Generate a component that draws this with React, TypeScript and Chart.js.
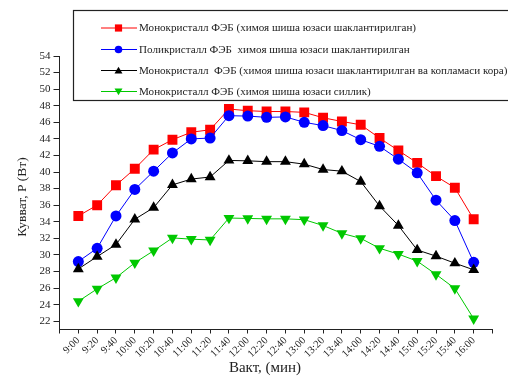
import React, { useEffect, useRef } from "react";
import { Chart, registerables } from "chart.js";

Chart.register(...registerables);

const times = ["9:00","9:20","9:40","10:00","10:20","10:40","11:00","11:20","11:40","12:00","12:20","12:40","13:00","13:20","13:40","14:00","14:20","14:40","15:00","15:20","15:40","16:00"];

const monoShaped = [34.7, 36.0, 38.4, 40.4, 42.7, 43.9, 44.8, 45.1, 47.6, 47.4, 47.3, 47.3, 47.2, 46.55, 46.1, 45.7, 44.1, 42.6, 41.1, 39.5, 38.1, 34.3];
const polyShaped = [29.2, 30.8, 34.7, 37.9, 40.1, 42.3, 44.0, 44.1, 46.8, 46.75, 46.6, 46.65, 46.0, 45.6, 45.0, 43.9, 43.1, 41.55, 39.9, 36.6, 34.15, 29.1];
const monoShapedBlack = [28.3, 29.8, 31.25, 34.3, 35.7, 38.45, 39.15, 39.4, 41.4, 41.35, 41.25, 41.25, 40.95, 40.3, 40.1, 38.85, 35.9, 33.55, 30.6, 29.85, 29.0, 28.2];
const monoSmooth = [24.4, 25.9, 27.25, 29.05, 30.5, 32.05, 31.9, 31.8, 34.45, 34.4, 34.35, 34.35, 34.25, 33.55, 32.6, 32.0, 30.8, 30.1, 29.25, 27.65, 25.95, 22.3];

const seriesNames = [
  "Монокристалл ФЭБ (химоя шиша юзаси шаклантирилган)",
  "Поликристалл ФЭБ  химоя шиша юзаси шаклантирилган",
  "Монокристалл  ФЭБ (химоя шиша юзаси шаклантирилган ва копламаси кора)",
  "Монокристалл ФЭБ (химоя шиша юзаси силлик)",
];
const seriesColors = ["#ff0000", "#0000ff", "#000000", "#00c800"];
const seriesStyles = ["rect", "circle", "triangle", "triangle"];
const seriesRot = [0, 0, 0, 180];
const seriesRadius = [7, 5.5, 6.3, 6.3];

const yTitle = "Кувват, P (Вт)";
const xTitle = "Вакт, (мин)";
const FONT = '"Liberation Serif", "Times New Roman", serif';

function drawMarker(ctx: CanvasRenderingContext2D, style: string, rot: number, r: number, x: number, y: number, color: string) {
  ctx.save();
  ctx.fillStyle = color;
  ctx.beginPath();
  if (style === "rect") {
    ctx.rect(x - r, y - r, 2 * r, 2 * r);
  } else if (style === "circle") {
    ctx.arc(x, y, r, 0, Math.PI * 2);
  } else {
    const s = rot === 180 ? -1 : 1;
    ctx.moveTo(x, y - s * r);
    ctx.lineTo(x + r * 0.866, y + s * r * 0.5);
    ctx.lineTo(x - r * 0.866, y + s * r * 0.5);
    ctx.closePath();
  }
  ctx.fill();
  ctx.restore();
}

const overlay = {
  id: "overlay",
  afterDraw(chart: any) {
    const ctx: CanvasRenderingContext2D = chart.ctx;
    ctx.save();
    // legend box
    ctx.strokeStyle = "#222";
    ctx.lineWidth = 1.2;
    ctx.strokeRect(73.5, 10.5, 440, 90);
    const rows = [28, 49.5, 70.5, 91.5];
    const legR = [3.6, 3.8, 4.6, 4.6];
    for (let i = 0; i < 4; i++) {
      const y = rows[i];
      ctx.strokeStyle = seriesColors[i];
      ctx.lineWidth = 1;
      ctx.beginPath();
      ctx.moveTo(101, y);
      ctx.lineTo(137, y);
      ctx.stroke();
      drawMarker(ctx, seriesStyles[i], seriesRot[i], legR[i], 118.5, y + (i === 2 ? 0.8 : i === 3 ? -0.8 : 0), seriesColors[i]);
      ctx.fillStyle = "#222";
      ctx.font = "11.1px " + FONT;
      ctx.textAlign = "left";
      ctx.textBaseline = "middle";
      ctx.fillText(seriesNames[i], 139, y + 0.5);
    }
    // axis titles
    ctx.fillStyle = "#222";
    ctx.font = "15px " + FONT;
    ctx.textAlign = "center";
    ctx.textBaseline = "middle";
    ctx.fillText(xTitle, 265, 368);
    ctx.font = "13.5px " + FONT;
    ctx.translate(22, 197);
    ctx.rotate(-Math.PI / 2);
    ctx.fillText(yTitle, 0, 0);
    ctx.restore();
  },
};

export default function App() {
  const ref = useRef<HTMLCanvasElement | null>(null);
  useEffect(() => {
    document.body.style.margin = "0";
    const seriesData = [monoShaped, polyShaped, monoShapedBlack, monoSmooth];
    const datasets = seriesData.map((arr, i) => ({
      label: seriesNames[i],
      data: arr.map((v, j) => ({ x: j, y: v })),
      borderColor: seriesColors[i],
      backgroundColor: seriesColors[i],
      borderWidth: 1,
      pointStyle: seriesStyles[i] as any,
      rotation: seriesRot[i],
      pointRadius: seriesRadius[i],
      pointBorderWidth: 0,
      pointHoverRadius: seriesRadius[i],
      tension: 0,
      order: 4 - i,
    }));
    const chart = new Chart(ref.current as HTMLCanvasElement, {
      type: "line",
      data: { datasets },
      options: {
        animation: false,
        responsive: false,
        devicePixelRatio: 1,
        layout: { padding: { top: 56, right: 15.5, left: 0, bottom: 0 } },
        plugins: { legend: { display: false }, tooltip: { enabled: false } },
        scales: {
          x: {
            type: "linear",
            min: -1,
            max: 22,
            afterFit: (s: any) => { s.height = 48.5; },
            afterBuildTicks: (s: any) => {
              const t = [];
              for (let i = -1; i <= 22; i++) t.push({ value: i });
              s.ticks = t;
            },
            ticks: {
              autoSkip: false,
              minRotation: 45,
              maxRotation: 45,
              padding: 1,
              color: "#222",
              font: { family: FONT, size: 10.5 },
              callback: (v: any) => (v >= 0 && v < times.length ? times[v] : ""),
            },
            grid: { drawOnChartArea: false, drawTicks: true, tickLength: 4, color: "#222" },
            border: { display: true, color: "#222", width: 1 },
          },
          y: {
            min: 21,
            max: 54,
            afterFit: (s: any) => { s.width = 59.5; },
            afterBuildTicks: (s: any) => {
              const t = [];
              for (let v = 22; v <= 54; v += 2) t.push({ value: v });
              s.ticks = t;
            },
            ticks: {
              autoSkip: false,
              padding: 3,
              color: "#222",
              font: { family: FONT, size: 11 },
            },
            grid: { drawOnChartArea: false, drawTicks: true, tickLength: 6, color: "#222" },
            border: { display: true, color: "#222", width: 1 },
          },
        },
      },
      plugins: [overlay],
    });
    return () => chart.destroy();
  }, []);
  return (
    <div style={{ position: "fixed", left: 0, top: 0, width: 508, height: 378, background: "#fff" }}>
      <canvas ref={ref} width={508} height={378} style={{ width: 508, height: 378 }} />
    </div>
  );
}
